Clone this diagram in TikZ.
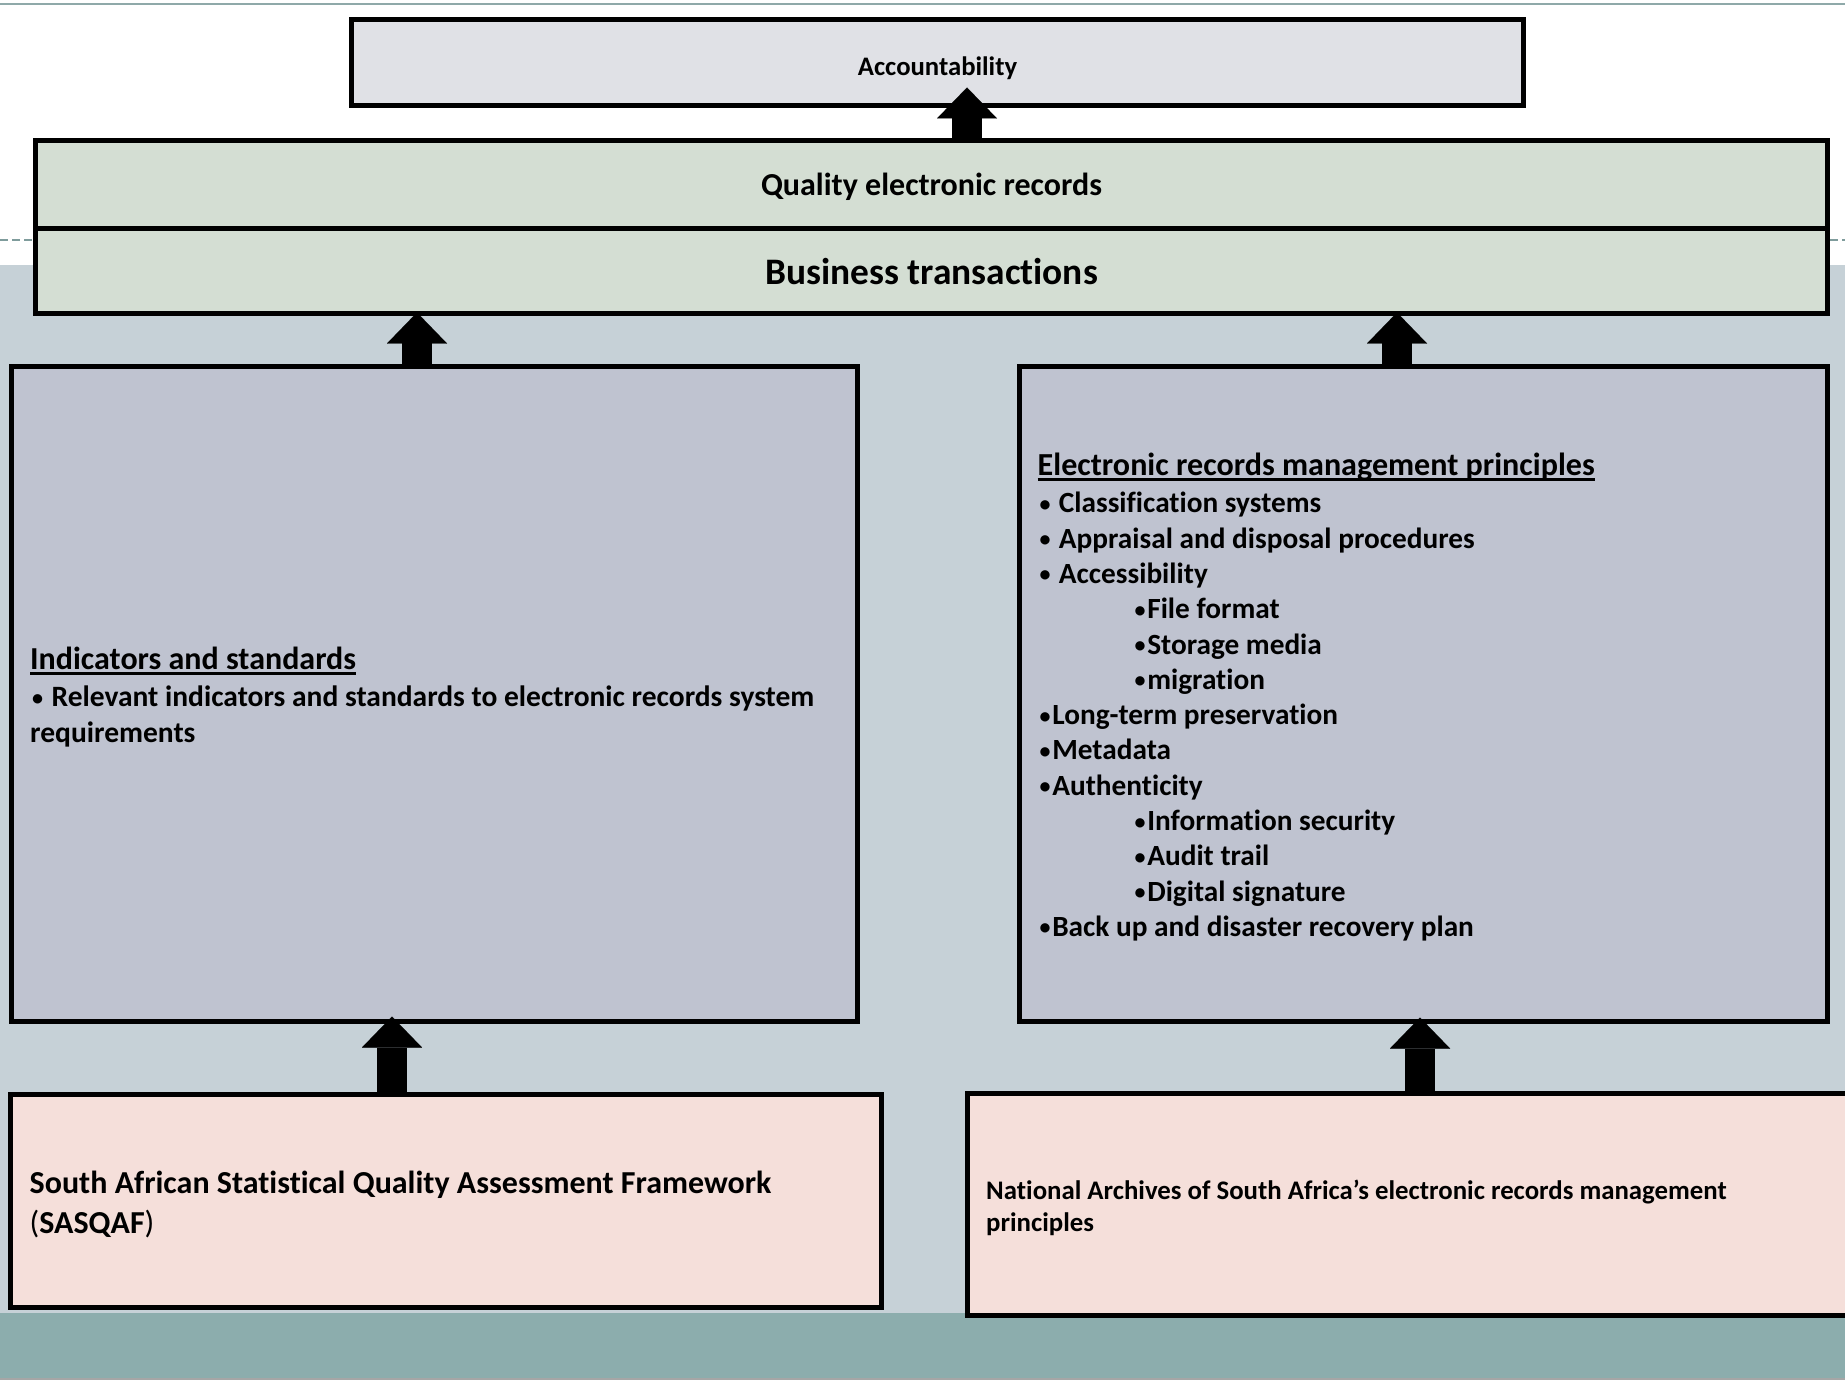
\documentclass[tikz,border=0pt]{standalone}
\usepackage{graphicx}
\usepackage{fontspec}
\setmainfont{Carlito}[Ligatures=NoCommon]
\usetikzlibrary{arrows.meta,calc}
\definecolor{bglight}{HTML}{C6D1D7}
\definecolor{bgteal}{HTML}{8CADAD}
\definecolor{topline}{HTML}{8FA9A9}
\definecolor{dashcol}{HTML}{7F9C9C}
\definecolor{accfill}{HTML}{E0E1E6}
\definecolor{greenfill}{HTML}{D4DED3}
\definecolor{greyfill}{HTML}{BFC3D0}
\definecolor{pinkfill}{HTML}{F5DFDA}
\newcommand{\myul}[1]{\setbox0\hbox{#1}\rlap{\rule[-5pt]{\wd0}{2.6pt}}\box0}
\newcommand{\bul}{\setbox2\hbox{•}\makebox[\wd2]{\raisebox{0.05em}{\scalebox{0.75}{•}}}}
\tikzset{
  box/.style={draw=black, line width=5pt, inner sep=0pt},
  txt/.style={inner sep=0pt, align=left, anchor=west},
  blockarrow/.style={draw=black, line width=30pt,
    -{Triangle[length=31pt 0, width=60pt 0, line width=0.01pt]}}
}
\begin{document}
\begin{tikzpicture}[x=1pt,y=-1pt]
\useasboundingbox (0,0) rectangle (1845,1383);
% background bands
\fill[bglight] (0,265) rectangle (1845,1313);
\fill[bgteal] (0,1313) rectangle (1845,1378.5);
\draw[topline, line width=2pt] (0,4) -- (1845,4);
\draw[gray!70, line width=1.5pt] (0,1379) -- (1845,1379);
\draw[dashcol, line width=2pt, dash pattern=on 8pt off 4pt] (0,240) -- (33,240);
\draw[dashcol, line width=2pt, dash pattern=on 8pt off 4pt] (1830,240) -- (1845,240);
% boxes
\node[box, fill=accfill, minimum width=1172pt, minimum height=86pt] (acc) at (937.5,62.5) {};
\node[box, fill=greenfill, minimum width=1792pt, minimum height=88pt] (qual) at (931.5,184.5) {};
\node[box, fill=greenfill, minimum width=1792pt, minimum height=85pt] (bus) at (931.5,271) {};
\node[box, fill=greyfill, minimum width=846pt, minimum height=655pt] (ind) at (434.5,694) {};
\node[box, fill=greyfill, minimum width=808pt, minimum height=655pt] (erm) at (1423.5,694) {};
\node[box, fill=pinkfill, minimum width=871pt, minimum height=213pt] (sas) at (446,1201) {};
\node[box, fill=pinkfill, minimum width=892.5pt, minimum height=222pt] (nat) at (1413.75,1204.5) {};
% texts
\node[inner sep=0pt, font=\bfseries\fontsize{26.7}{30}\selectfont] (acctxt)
  at ([yshift=-5.5pt]acc.center) {Accountability};
\node[inner sep=0pt, font=\bfseries\fontsize{32}{36}\selectfont] (qualtxt)
  at ([yshift=-2pt]qual.center) {Quality electronic records};
\node[inner sep=0pt, font=\bfseries\fontsize{37.4}{42}\selectfont] (bustxt)
  at ([yshift=-1pt]bus.center) {Business transactions};
\node[txt, font=\bfseries\fontsize{29.5}{35.3}\selectfont] (indtxt) at ([xshift=21pt,yshift=-3pt]ind.west)
  {{\fontsize{32}{35.3}\selectfont\myul{Indicators and standards}}\\[2pt]
   \bul\ Relevant indicators and standards to electronic records system\\
   requirements};
\node[txt, font=\bfseries\fontsize{29.3}{35.3}\selectfont] (ermtxt) at ([xshift=20.5pt,yshift=-3pt]erm.west)
  {{\fontsize{32.1}{35.3}\selectfont\myul{Electronic records management principles}}\\[2pt]
   \bul\ Classification systems\\
   \bul\ Appraisal and disposal procedures\\
   \bul\ Accessibility\\
   \hspace*{95pt}\bul File format\\
   \hspace*{95pt}\bul Storage media\\
   \hspace*{95pt}\bul migration\\
   \bul Long-term preservation\\
   \bul Metadata\\
   \bul Authenticity\\
   \hspace*{95pt}\bul Information security\\
   \hspace*{95pt}\bul Audit trail\\
   \hspace*{95pt}\bul Digital signature\\
   \bul Back up and disaster recovery plan};
\node[txt, font=\bfseries\fontsize{32}{40}\selectfont] (sastxt) at ([xshift=21.5pt,yshift=-3pt]sas.west)
  {South African Statistical Quality Assessment Framework\\
   {\mdseries (}SASQAF{\mdseries )}};
\node[txt, font=\bfseries\fontsize{26.8}{32}\selectfont] (nattxt) at ([xshift=21pt,yshift=-3pt]nat.west)
  {National Archives of South Africa’s electronic records management\\
   principles};
% arrows
\coordinate (xa) at (967,0);
\coordinate (xb) at (417,0);
\coordinate (xc) at (1397,0);
\coordinate (xd) at (392,0);
\coordinate (xe) at (1420,0);
\draw[blockarrow] (xa |- qual.north) -- ([yshift=20.5pt]xa |- acc.south);
\draw[blockarrow] (xb |- ind.north) -- ([yshift=3.5pt]xb |- bus.south);
\draw[blockarrow] (xc |- erm.north) -- ([yshift=3.5pt]xc |- bus.south);
\draw[blockarrow] (xd |- sas.north) -- ([yshift=7.5pt]xd |- ind.south);
\draw[blockarrow] (xe |- nat.north) -- ([yshift=6.5pt]xe |- ind.south);
\end{tikzpicture}
\end{document}
